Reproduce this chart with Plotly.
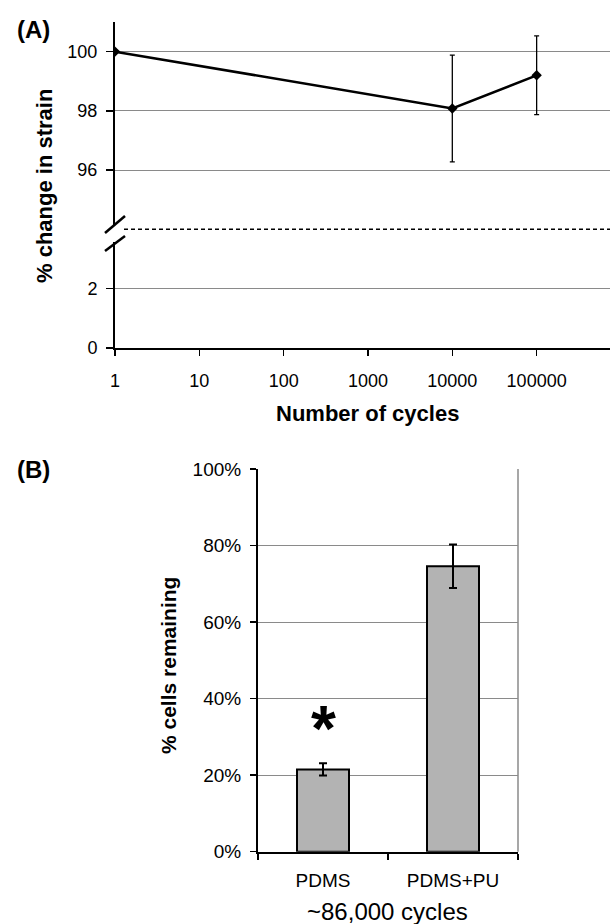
import plotly.graph_objects as go

W, H = 610, 924
FONT = "Liberation Sans, Arial, sans-serif"

# ---- Panel A data ----
cycles = [1, 10000, 100000]
strain = [100.0, 98.08, 99.2]
strain_err = [0.0, 1.8, 1.33]
x_tickvals = [1, 10, 100, 1000, 10000, 100000]
x_ticktext = ["1", "10", "100", "1000", "10000", "100000"]
upper_ticks = [96, 98, 100]
lower_ticks = [0, 2]

# ---- Panel B data ----
materials = ["PDMS", "PDMS+PU"]
cells_remaining = [21.5, 74.6]
cells_err = [1.6, 5.7]
b_ticks = [0, 20, 40, 60, 80, 100]
b_ticktext = ["0%", "20%", "40%", "60%", "80%", "100%"]


def px(x):
    return x / W


def py(y):
    return 1 - y / H


fig = go.Figure()

# empty trace so the lower (broken) axis subplot exists
fig.add_trace(go.Scatter(x=[], y=[], xaxis="x", yaxis="y", showlegend=False, hoverinfo="skip"))

fig.add_trace(go.Scatter(
    x=cycles, y=strain, xaxis="x", yaxis="y2", mode="lines+markers",
    line=dict(color="black", width=2.5),
    marker=dict(symbol="diamond", size=8, color="black"),
    error_y=dict(type="data", array=strain_err, color="black", thickness=1.3, width=2.5),
    showlegend=False,
))

fig.add_trace(go.Bar(
    x=materials, y=cells_remaining, xaxis="x2", yaxis="y3", width=0.4,
    marker=dict(color="#b3b3b3", line=dict(color="black", width=2)),
    error_y=dict(type="data", array=cells_err, color="black", thickness=2, width=4),
    showlegend=False,
))

tickfont = dict(family=FONT, size=18, color="black")
common_y = dict(showline=True, linecolor="black", linewidth=2, ticks="outside",
                ticklen=7, tickcolor="black", tickwidth=1.5, showgrid=True,
                gridcolor="#8a8a8a", gridwidth=1, zeroline=False, fixedrange=True,
                tickfont=tickfont, ticklabelstandoff=5, automargin=False)

fig.update_layout(
    template="none",
    width=W, height=H, autosize=False,
    margin=dict(l=0, r=0, t=0, b=0, pad=0),
    paper_bgcolor="white", plot_bgcolor="white",
    font=dict(family=FONT, color="black"),
    xaxis=dict(type="log", domain=[px(115), 1.0], range=[0, 5.87], anchor="y",
               tickvals=x_tickvals, ticktext=x_ticktext, showline=True,
               linecolor="black", linewidth=2, ticks="outside", ticklen=6,
               tickcolor="black", tickwidth=1.5, showgrid=False, zeroline=False,
               tickfont=tickfont, ticklabelstandoff=9, automargin=False, fixedrange=True),
    yaxis=dict(domain=[py(348), py(229.3)], range=[0, 4], anchor="x",
               tickvals=lower_ticks, **common_y),
    yaxis2=dict(domain=[py(229.3), py(22)], range=[94, 101], anchor="x",
                tickvals=upper_ticks, **common_y),
    xaxis2=dict(type="category", domain=[px(258), px(518)], range=[-0.5, 1.5],
                anchor="y3", tickson="boundaries", showline=True, linecolor="black",
                linewidth=2, ticks="outside", ticklen=6, tickcolor="black",
                tickwidth=1.5, showgrid=False, zeroline=False,
                tickfont=dict(family=FONT, size=19, color="black"),
                ticklabelstandoff=10, automargin=False, fixedrange=True),
    yaxis3=dict(domain=[py(851.7), py(469)], range=[0, 100], anchor="x2",
                tickvals=b_ticks, ticktext=b_ticktext,
                **{**common_y, "tickfont": dict(family=FONT, size=19, color="black"),
                   "ticklen": 6}),
)

shapes = []
# right border of panel B
shapes.append(dict(type="line", xref="x2 domain", yref="y3 domain", x0=1, x1=1, y0=0, y1=1,
                   line=dict(color="#8a8a8a", width=1.5), layer="below"))
# dashed break line
shapes.append(dict(type="line", xref="paper", yref="paper", x0=px(124), x1=1.0,
                   y0=py(229.3), y1=py(229.3), line=dict(color="black", width=1.5, dash="4px,3px")))
# gap in axis
shapes.append(dict(type="rect", xref="paper", yref="paper", x0=px(109), x1=px(121),
                   y0=py(242), y1=py(226), fillcolor="white", line=dict(width=0), layer="above"))
# break slashes
shapes.append(dict(type="line", xref="paper", yref="paper", x0=px(105), x1=px(125),
                   y0=py(233), y1=py(216), line=dict(color="black", width=2.5)))
shapes.append(dict(type="line", xref="paper", yref="paper", x0=px(105), x1=px(125),
                   y0=py(251), y1=py(236), line=dict(color="black", width=2.5)))
fig.update_layout(shapes=shapes)

ann = []
ann.append(dict(text="<b>(A)</b>", xref="paper", yref="paper", x=px(33), y=py(30),
                showarrow=False, font=dict(size=24, family=FONT), xanchor="center", yanchor="middle"))
ann.append(dict(text="<b>(B)</b>", xref="paper", yref="paper", x=px(33), y=py(469),
                showarrow=False, font=dict(size=24, family=FONT), xanchor="center", yanchor="middle"))
ann.append(dict(text="<b>% change in strain</b>", xref="paper", yref="paper", x=px(44), y=py(186),
                showarrow=False, textangle=-90, font=dict(size=22, family=FONT),
                xanchor="center", yanchor="middle"))
ann.append(dict(text="<b>Number of cycles</b>", xref="paper", yref="paper", x=px(367), y=py(413),
                showarrow=False, font=dict(size=22, family=FONT), xanchor="center", yanchor="middle"))
ann.append(dict(text="<b>% cells remaining</b>", xref="paper", yref="paper", x=px(168), y=py(666),
                showarrow=False, textangle=-90, font=dict(size=21, family=FONT),
                xanchor="center", yanchor="middle"))
ann.append(dict(text="~86,000 cycles", xref="paper", yref="paper", x=px(387), y=py(911),
                showarrow=False, font=dict(size=24, family=FONT), xanchor="center", yanchor="middle"))
ann.append(dict(text="<b>*</b>", xref="x2", yref="y3", x=materials[0], y=cells_remaining[0] + 10.5,
                showarrow=False, font=dict(size=64, family=FONT), xanchor="center", yanchor="middle"))
fig.update_layout(annotations=ann)

fig.write_html("out.html", config={"displayModeBar": False, "staticPlot": True},
               post_script="document.body.style.margin='0';document.body.style.overflow='hidden';")
